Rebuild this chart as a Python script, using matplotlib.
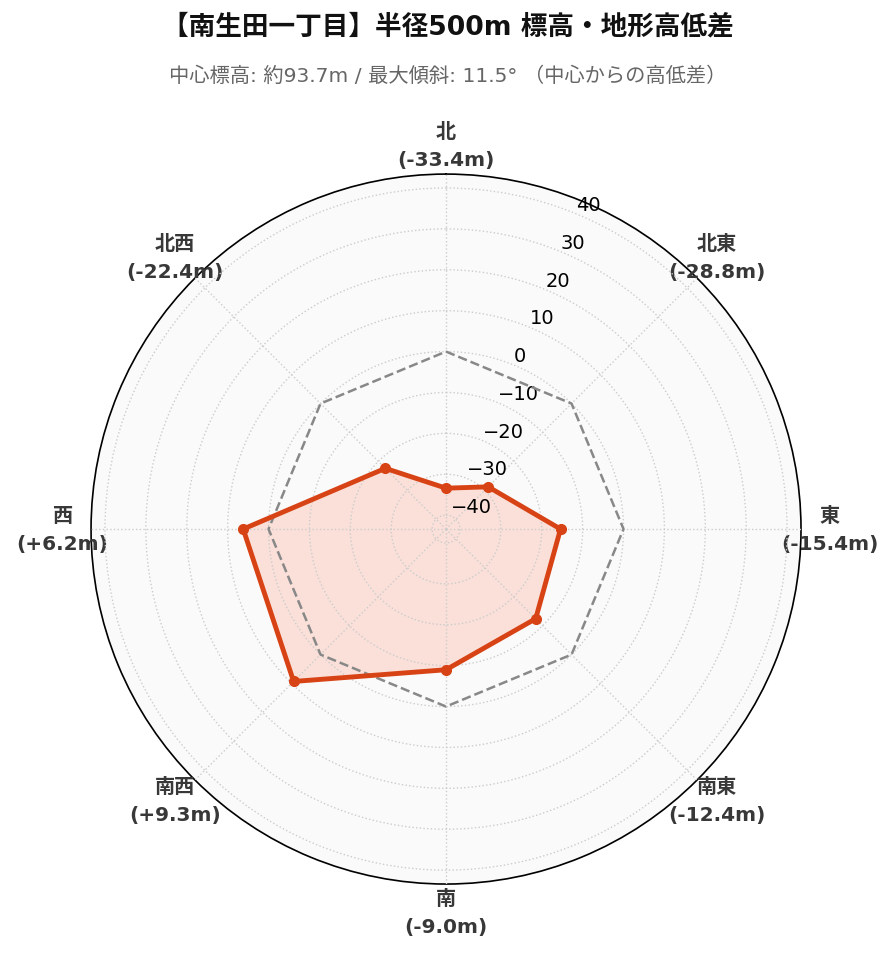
import numpy as np
import matplotlib
matplotlib.use("Agg")
import matplotlib.pyplot as plt

plt.rcParams['font.family'] = ['DejaVu Sans', 'Noto Sans CJK JP']

# directions clockwise from north
directions = ['北', '北東', '東', '南東', '南', '南西', '西', '北西']
diffs = [-33.4, -28.8, -15.4, -12.4, -9.0, 9.3, 6.2, -22.4]
rticks = [-40, -30, -20, -10, 0, 10, 20, 30, 40]

title = '【南生田一丁目】半径500m 標高・地形高低差'
subtitle = '中心標高: 約93.7m / 最大傾斜: 11.5° （中心からの高低差）'

line_color = '#d84315'
fill_color = '#fbd5ca'

n = len(directions)
angles = np.arange(n) * 2 * np.pi / n
ang_closed = np.append(angles, angles[0])
val_closed = np.append(diffs, diffs[0])

lim = max(abs(v) for v in diffs) + 10

fig = plt.figure(figsize=(8.96, 9.62), dpi=100)
ax = fig.add_axes([0.1016, 0.080, 0.7924, 0.738], projection='polar')
ax.set_theta_zero_location('N')
ax.set_theta_direction(-1)
ax.set_facecolor('#fafafa')
ax.set_ylim(-lim, lim)
ax.set_axisbelow(False)

# zero reference
ax.plot(ang_closed, np.zeros(n + 1), '--', color='#888888', lw=1.8, zorder=3)

ax.fill(ang_closed, val_closed, color=fill_color, alpha=0.7, zorder=2)
ax.plot(ang_closed, val_closed, color=line_color, lw=3.5, zorder=4)
ax.plot(angles, diffs, 'o', color=line_color, ms=7, zorder=5)

ax.set_xticks(angles)
labels = ['%s\n(%+.1fm)' % (d, v) if v > 0 else '%s\n(%.1fm)' % (d, v)
          for d, v in zip(directions, diffs)]
ax.set_xticklabels(labels, fontsize=14.5, fontweight='bold', color='#383838',
                   linespacing=1.6)
ax.tick_params(axis='x', pad=10)

ax.set_yticks(rticks)
ax.set_rlabel_position(22.5)
ax.tick_params(axis='y', labelsize=14)

ax.grid(True, linestyle=':', color='#cccccc', lw=1.0)
ax.spines['polar'].set_color('black')
ax.spines['polar'].set_linewidth(1.2)
ax.spines['polar'].set_zorder(1)

fig.text(0.5, 0.971, title, ha='center', va='center', fontsize=19.2,
         fontweight='bold', color='#111111')
fig.text(0.5, 0.921, subtitle, ha='center', va='center', fontsize=14.6,
         color='#666666')

fig.savefig('out.png', dpi=100)
